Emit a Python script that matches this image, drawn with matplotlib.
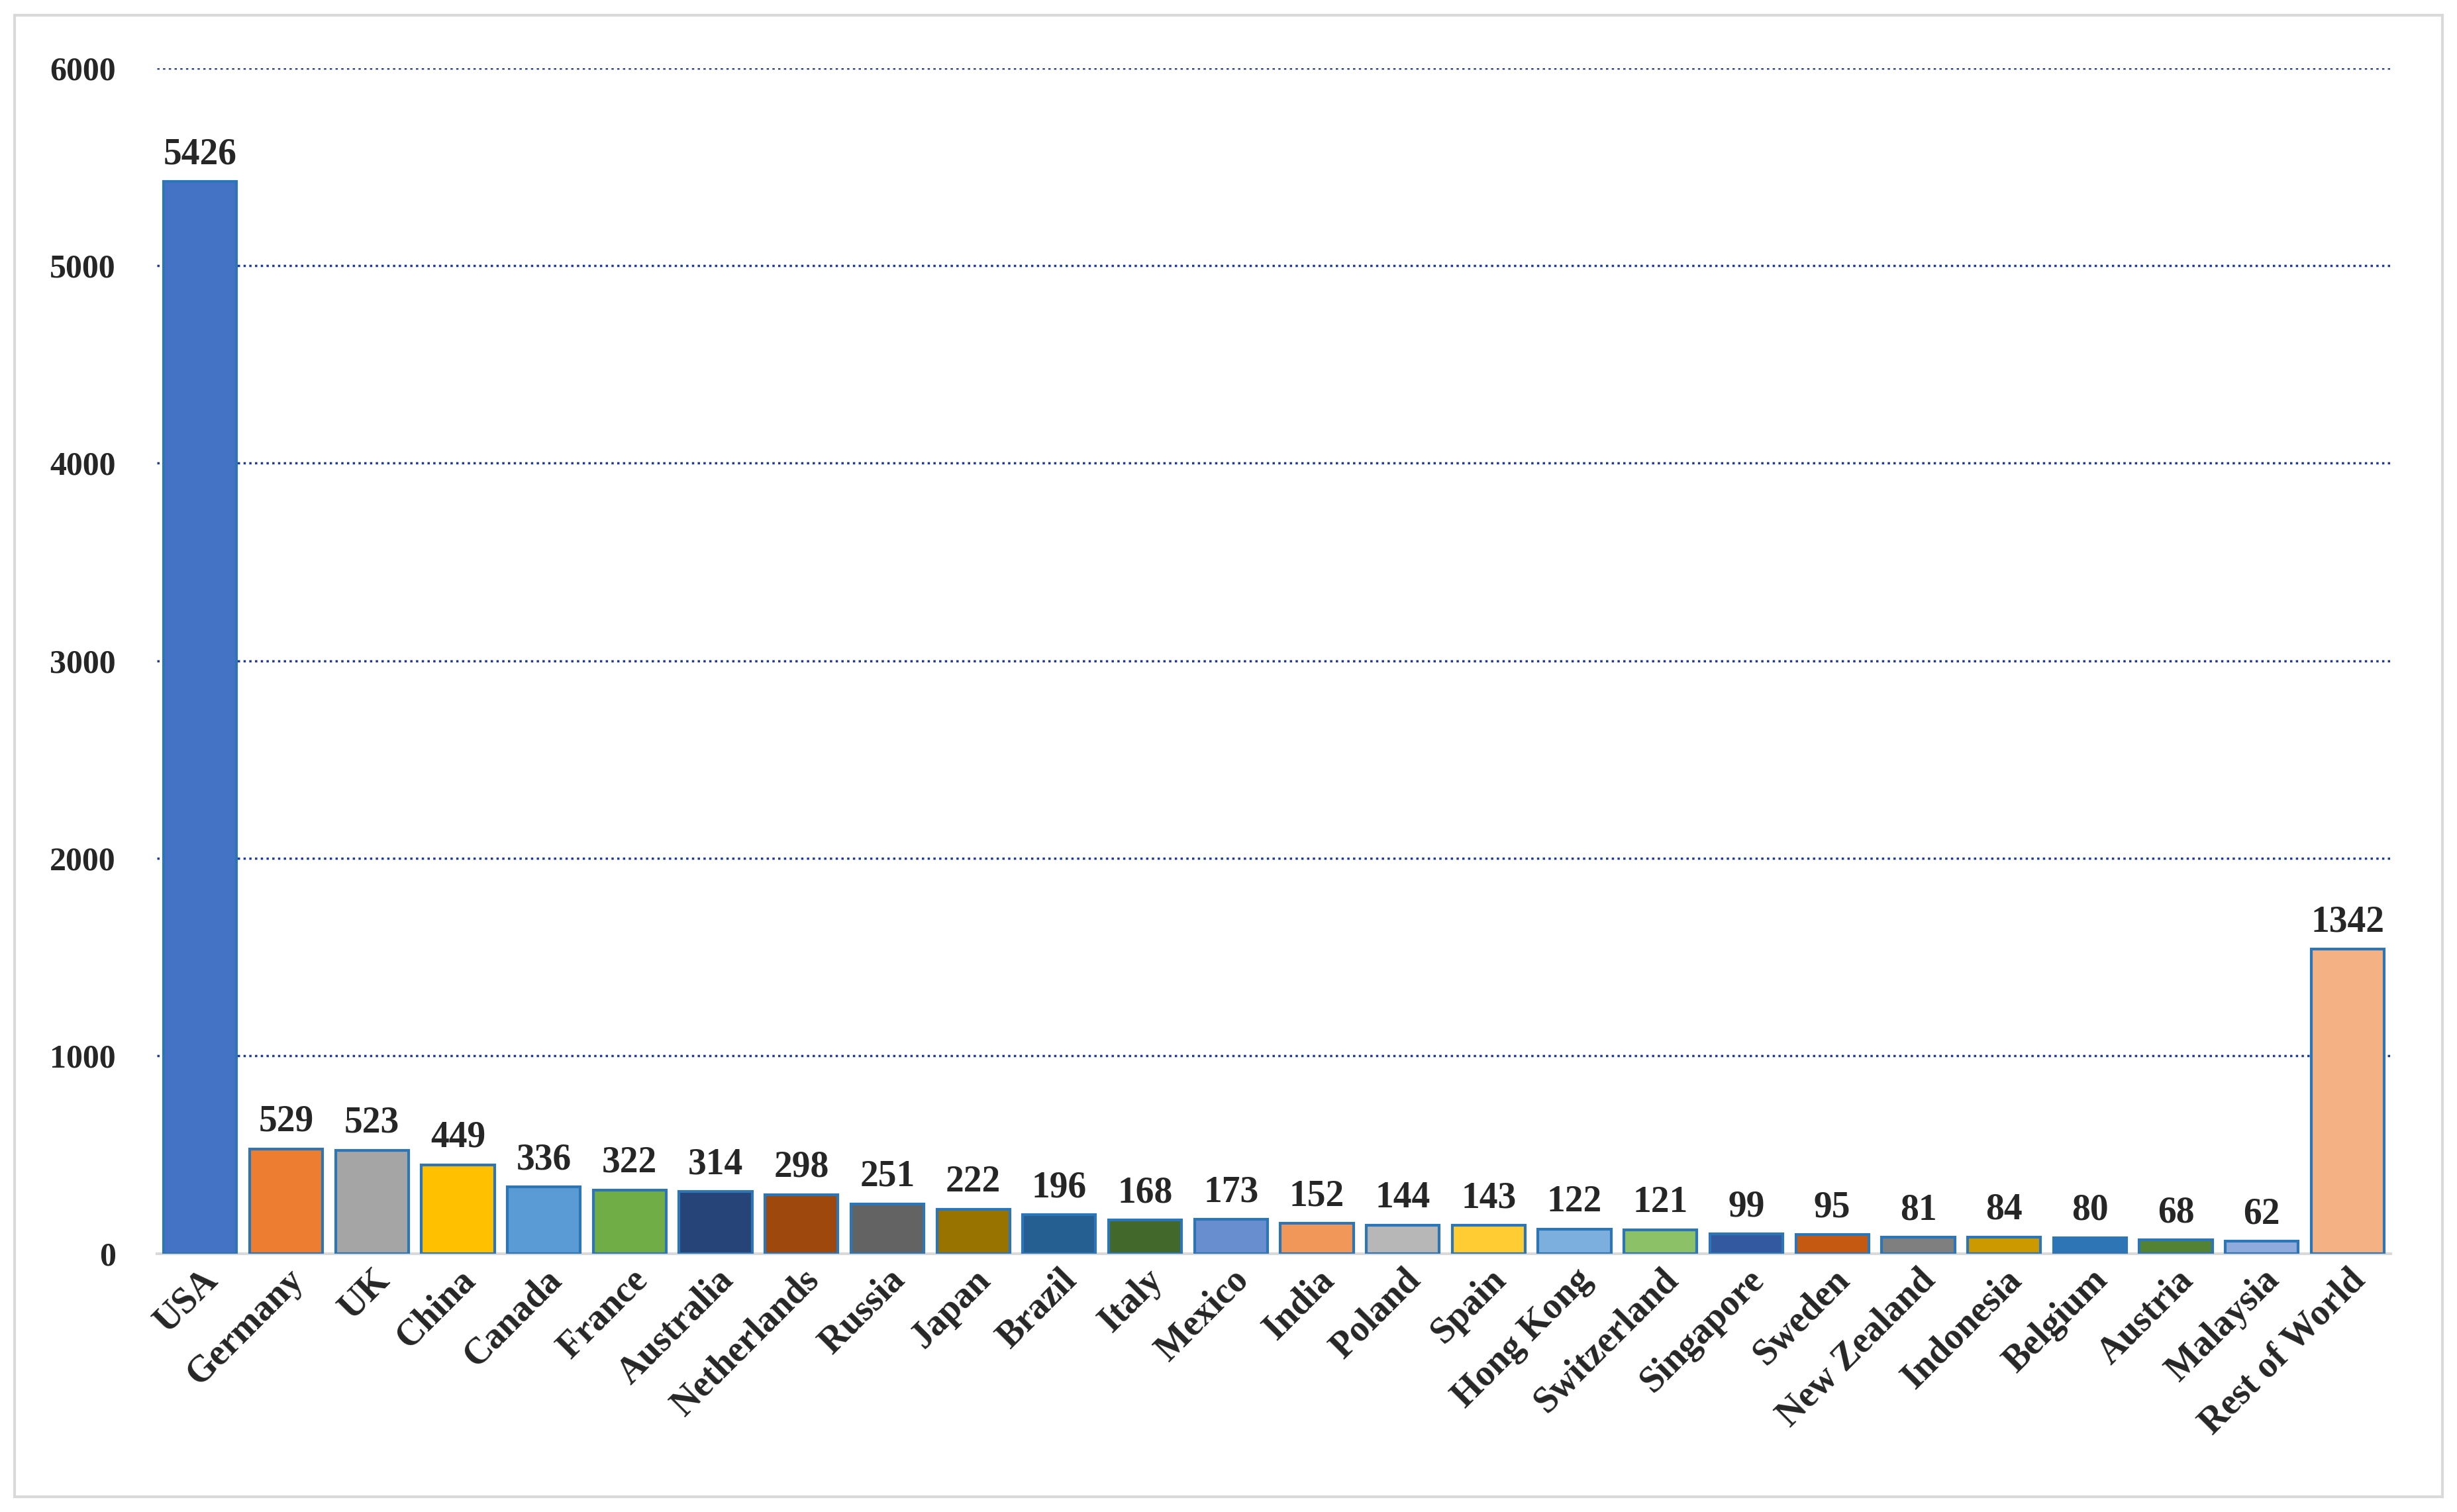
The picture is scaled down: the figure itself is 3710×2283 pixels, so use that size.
import matplotlib
matplotlib.use("Agg")
import matplotlib.pyplot as plt
from matplotlib.patches import Rectangle

countries = ["USA","Germany","UK","China","Canada","France","Australia","Netherlands","Russia","Japan",
             "Brazil","Italy","Mexico","India","Poland","Spain","Hong Kong","Switzerland","Singapore","Sweden",
             "New Zealand","Indonesia","Belgium","Austria","Malaysia","Rest of World"]
values = [5426,529,523,449,336,322,314,298,251,222,196,168,173,152,144,143,122,121,99,95,81,84,80,68,62,1540]
labels = ["5426","529","523","449","336","322","314","298","251","222","196","168","173","152","144","143",
          "122","121","99","95","81","84","80","68","62","1342"]
colors = ["#4472C4","#ED7D31","#A5A5A5","#FFC000","#5B9BD5","#70AD47","#264478","#9E480E","#636363","#997300",
          "#255E91","#43682B","#698ED0","#F1975A","#B7B7B7","#FFCD33","#7CAFDD","#8CC168","#335AA1","#C65911",
          "#7F7F7F","#CC9A00","#2E75B6","#548235","#8FAADC","#F4B183"]
yticks = [0,1000,2000,3000,4000,5000,6000]

plt.rcParams['font.family'] = ['Liberation Serif', 'DejaVu Serif']
fig = plt.figure(figsize=(37.1, 22.83), dpi=100)
fig.patches.append(Rectangle((0.006, 0.01), 0.988, 0.98, transform=fig.transFigure,
                             fill=False, edgecolor="#D9D9D9", linewidth=3))
ax = fig.add_axes([0.064, 0.171, 0.909, 0.784])
x = range(len(countries))
ax.bar(x, values, width=0.85, color=colors, edgecolor="#2E75B6", linewidth=3, zorder=3)
for i, (v, l) in enumerate(zip(values, labels)):
    ax.text(i, v + 50, l, ha="center", va="bottom", fontsize=40, fontweight="bold", color="#262626")
ax.set_ylim(0, 6000)
ax.set_xlim(-0.5, len(countries) - 0.5)
ax.set_yticks(yticks)
ax.set_yticklabels([str(t) for t in yticks], fontsize=36, fontweight="bold", color="#262626")
ax.set_xticks(list(x))
ax.set_xticklabels(countries, rotation=45, ha="right", rotation_mode="anchor",
                   fontsize=40, fontweight="bold", color="#262626")
ax.grid(axis="y", linestyle=(0, (1, 1.5)), color="#1F3A93", linewidth=2.5, zorder=0)
for s in ["top", "right", "left"]:
    ax.spines[s].set_visible(False)
ax.spines["bottom"].set_color("#D9D9D9")
ax.spines["bottom"].set_linewidth(3)
ax.tick_params(axis="y", length=0, pad=45)
ax.tick_params(axis="x", length=0, pad=10)
fig.savefig("out.png", dpi=100)
